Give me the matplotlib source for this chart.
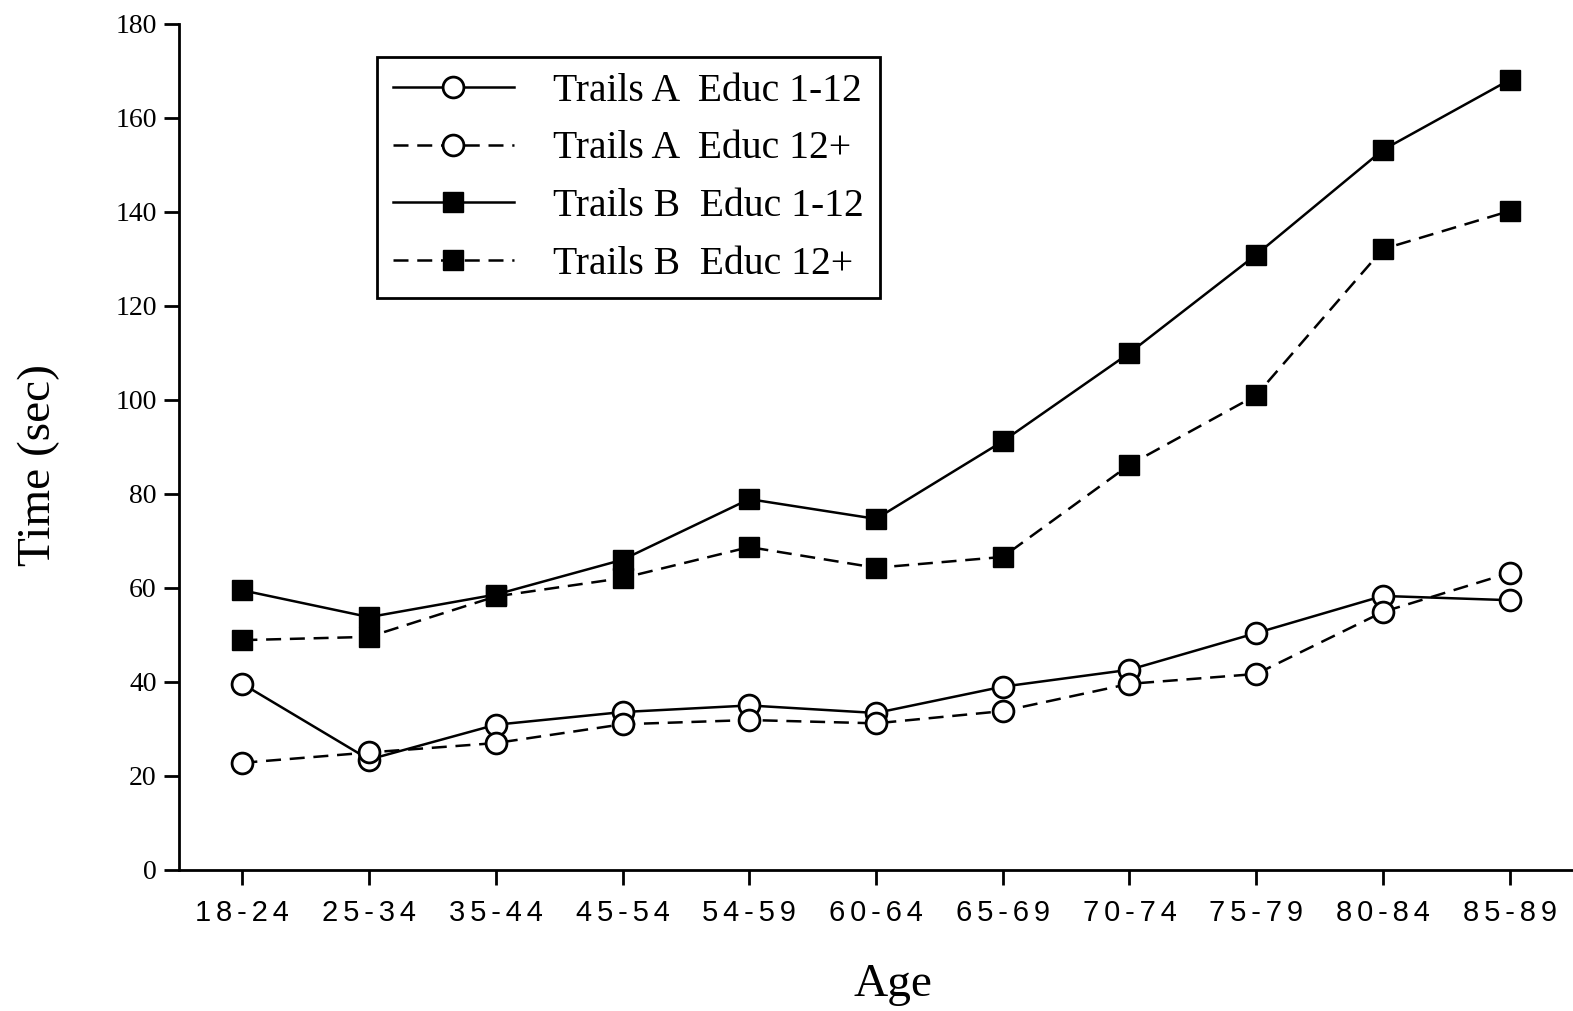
import matplotlib.pyplot as plt
import numpy as np

# 数据
age_groups = ["18-24", "25-34", "35-44", "45-54", "54-59", "60-64",
              "65-69", "70-74", "75-79", "80-84", "85-89"]
trails_a_low = [39.6, 23.5, 30.9, 33.6, 35.0, 33.4, 39.0, 42.6, 50.4, 58.3, 57.4]
trails_a_high = [22.8, 25.0, 27.0, 31.0, 31.9, 31.2, 33.8, 39.6, 41.7, 54.9, 63.2]
trails_b_low = [59.5, 53.8, 58.6, 66.0, 78.9, 74.7, 91.2, 110.0, 130.9, 153.2, 168.1]
trails_b_high = [48.9, 49.6, 58.2, 62.1, 68.7, 64.3, 66.6, 86.2, 101.0, 132.1, 140.2]
labels = ["Trails A  Educ 1-12", "Trails A  Educ 12+",
          "Trails B  Educ 1-12", "Trails B  Educ 12+"]

serif = ["Liberation Serif", "DejaVu Serif"]
sans = ["Liberation Sans", "DejaVu Sans"]

fig = plt.figure(figsize=(15.73, 10.11), dpi=100)
ax = fig.add_axes([0.1138, 0.1395, 1.0 - 0.1138, 0.9763 - 0.1395])

x = np.arange(len(age_groups))
lw = 1.8
dash = (6, 3.5)

ax.plot(x, trails_a_low, color="black", lw=lw, marker="o", ms=15,
        mfc="white", mec="black", mew=2, label=labels[0], zorder=3)
ax.plot(x, trails_a_high, color="black", lw=lw, ls="--", dashes=dash, marker="o", ms=15,
        mfc="white", mec="black", mew=2, label=labels[1], zorder=3)
ax.plot(x, trails_b_low, color="black", lw=lw, marker="s", ms=15,
        mfc="black", mec="black", label=labels[2], zorder=3)
ax.plot(x, trails_b_high, color="black", lw=lw, ls="--", dashes=dash, marker="s", ms=15,
        mfc="black", mec="black", label=labels[3], zorder=3)

ax.set_xlim(-0.5, 10.5)
ax.set_ylim(0, 180)
ax.set_yticks(np.arange(0, 181, 20))
ax.set_xticks(x)
# 原图刻度标签字距较宽，用窄空格拉开
spaced = ["\u2006".join(g) for g in age_groups]
ax.set_xticklabels(spaced, family=sans, fontsize=21)
ax.tick_params(axis="y", labelsize=20, labelfontfamily="Liberation Serif")

ax.spines["top"].set_visible(False)
ax.spines["right"].set_visible(False)
ax.spines["left"].set_linewidth(2)
ax.spines["bottom"].set_linewidth(2)
ax.tick_params(axis="y", direction="out", length=11, width=2, pad=5)
ax.tick_params(axis="x", direction="out", length=11, width=2, pad=10)

ax.set_ylabel("Time (sec)", family=serif, fontsize=34)
ax.yaxis.set_label_coords(-0.085, 0.479)
ax.set_xlabel("Age", family=serif, fontsize=34)
ax.xaxis.set_label_coords(0.512, -0.11)

leg = ax.legend(loc="upper left", bbox_to_anchor=(377 / 1573, 1 - 57 / 1011),
                bbox_transform=fig.transFigure, borderaxespad=0,
                prop={"family": serif, "size": 28.5}, handlelength=3.05,
                handletextpad=1.0, labelspacing=0.52, borderpad=0.4,
                fancybox=False, edgecolor="black", framealpha=1)
leg.get_frame().set_linewidth(2)

fig.savefig("out.png", dpi=100)
